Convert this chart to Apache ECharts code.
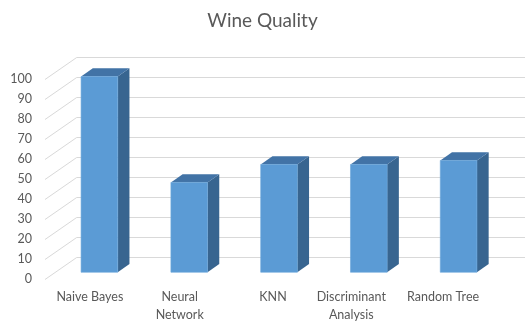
<!DOCTYPE html>
<html><head><meta charset="utf-8">
<script src="https://cdn.jsdelivr.net/npm/echarts@6/dist/echarts.min.js"></script>
<style>html,body{margin:0;padding:0;background:#fff}#c{width:525px;height:324px}</style>
</head><body><div id="c"></div>
<script>
const categories = ['Naive Bayes', 'Neural\nNetwork', 'KNN', 'Discriminant\nAnalysis', 'Random Tree'];
const accuracy = [98, 45, 54, 54, 56];
const yTicks = [0, 10, 20, 30, 40, 50, 60, 70, 80, 90, 100];

const DX = 31.7, DY = -22.4;      // full floor depth offset (oblique projection)
const F0 = 0.3, F1 = 0.67;        // bar depth span as fraction of floor depth
const BAR_FRAC = 0.408;
const FONT = 'Lato';
const TXT = '#595959';

const chart = echarts.init(document.getElementById('c'), null, {renderer: 'canvas'});

function wallItem(params, api) {
  const cs = params.coordSys;
  const y = Math.round(api.coord([0, api.value(1)])[1]) + 0.5;
  const yb = Math.round(y + DY) + 0.5;
  const xb = cs.x + DX;
  const st = {stroke: '#d9d9d9', lineWidth: 1, fill: null};
  return {
    type: 'group',
    children: [
      {type: 'line', shape: {x1: cs.x, y1: y, x2: xb, y2: yb}, style: st},
      {type: 'line', shape: {x1: xb, y1: yb, x2: cs.x + cs.width + DX + 6, y2: yb}, style: st}
    ]
  };
}

function barItem(params, api) {
  const i = api.value(0), v = api.value(1);
  const base = api.coord([i, 0]);
  const top = api.coord([i, v]);
  const w = api.size([1, 0])[0] * BAR_FRAC;
  const ox = DX * F0, oy = DY * F0;
  const dx = DX * (F1 - F0), dy = DY * (F1 - F0);
  const x0 = base[0] - w / 2 + ox, x1 = x0 + w;
  const yt = top[1] + oy, yb = base[1] + oy;
  return {
    type: 'group',
    children: [
      {type: 'polygon', shape: {points: [[x1, yt], [x1 + dx, yt + dy], [x1 + dx, yb + dy], [x1, yb]]},
        style: {fill: '#386590'}},
      {type: 'polygon', shape: {points: [[x0, yt], [x1, yt], [x1 + dx, yt + dy], [x0 + dx, yt + dy]]},
        style: {fill: '#4273a6'}},
      {type: 'rect', shape: {x: x0, y: yt, width: w, height: yb - yt},
        style: {fill: '#5b9bd5', stroke: '#6aa6dc', lineWidth: 0.6}}
    ]
  };
}

const base = {fontFamily: FONT, fontSize: 12.5, color: TXT, lineHeight: 18};
const rich = {
  s0: Object.assign({}, base),
  s1: Object.assign({}, base),
  s2: Object.assign({padding: [0, 0, 0, 7]}, base),
  s3: Object.assign({padding: [0, 16, 0, 0]}, base),
  s4: Object.assign({padding: [0, 12, 0, 0]}, base)
};

chart.setOption({
  animation: false,
  backgroundColor: '#ffffff',
  title: {
    text: 'Wine Quality', left: 'center', top: 6,
    textStyle: {fontFamily: FONT, fontSize: 19, fontWeight: 'normal', color: TXT}
  },
  grid: {left: 45, right: 31, top: 79.3, bottom: 42.3, containLabel: false},
  xAxis: {
    type: 'category', data: categories,
    axisLine: {show: false}, axisTick: {show: false}, splitLine: {show: false},
    axisLabel: {
      interval: 0, margin: 9, color: TXT, fontFamily: FONT, fontSize: 12.5, lineHeight: 18,
      formatter: (val, idx) => val.split('\n').map(l => '{s' + idx + '|' + l + '}').join('\n'),
      rich: rich
    }
  },
  yAxis: {
    type: 'value', min: 0, max: 100, interval: 10,
    axisLine: {show: false}, axisTick: {show: false}, splitLine: {show: false},
    axisLabel: {margin: 13, color: TXT, fontFamily: FONT, fontSize: 12.5, padding: [3, 0, 0, 0]}
  },
  series: [
    {type: 'custom', renderItem: wallItem, data: yTicks.map(v => [0, v]), z: 1, silent: true, clip: false},
    {type: 'custom', renderItem: barItem, data: accuracy.map((v, i) => [i, v]), z: 2, clip: false}
  ]
});
</script></body></html>
